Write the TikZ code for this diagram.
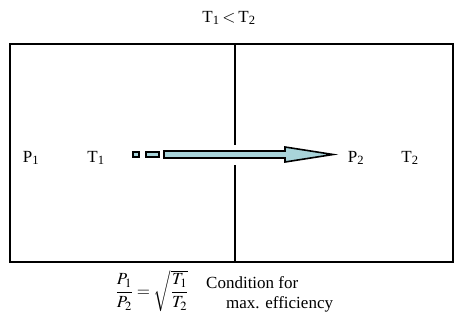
\documentclass[tikz,border=0pt]{standalone}
\usepackage{amsmath}
\usepackage{mathptmx}
\usepackage[no-math]{fontspec}
\setmainfont{Liberation Serif}
\usetikzlibrary{positioning}
\definecolor{flowfill}{RGB}{168,212,218}
\tikzset{
  label text/.style={font=\fontsize{17}{19}\selectfont, inner sep=1pt},
  wall/.style={line width=1.8pt, black},
  flow/.style={line width=1.6pt, draw=black, fill=flowfill, line join=miter},
}
\begin{document}
\begin{tikzpicture}[x=1pt, y=-1pt]
  \useasboundingbox (0,0) rectangle (454,329);

  % title
  \node[label text] (cond) at (229,18) {T\textsubscript{1}\,$<$\,T\textsubscript{2}};

  % vessel with partition
  \draw[wall] (10,44) rectangle (453,262);
  \coordinate (wtop) at (235,44);
  \coordinate (wbot) at (235,262);
  \draw[wall] (wtop) -- (235,145);
  \draw[wall] (235,165) -- (wbot);

  % chamber labels
  \node[label text] (p1) at (31,158) {P\textsubscript{1}};
  \node[label text] (t1) at (96,158) {T\textsubscript{1}};
  \node[label text] (p2) at (356,158) {P\textsubscript{2}};
  \node[label text] (t2) at (410,158) {T\textsubscript{2}};

  % effusion arrow
  \draw[flow] (133,152) rectangle (139,157);
  \draw[flow] (146,152) rectangle (159,157);
  \draw[flow] (164,151) -- (285,151) -- (285,147) -- (333,154.5)
    -- (285,162) -- (285,158) -- (164,158) -- cycle;

  % condition
  \node[label text, inner sep=0pt] (eq) at (152,291) {$\dfrac{P_1}{P_2}=\sqrt{\dfrac{T_1}{T_2}}$};
  \node[label text, anchor=west] (ctext) at (205,283) {Condition for};
  \node[label text, anchor=west] (cmax) at (225,304) {max. efficiency};
\end{tikzpicture}
\end{document}
